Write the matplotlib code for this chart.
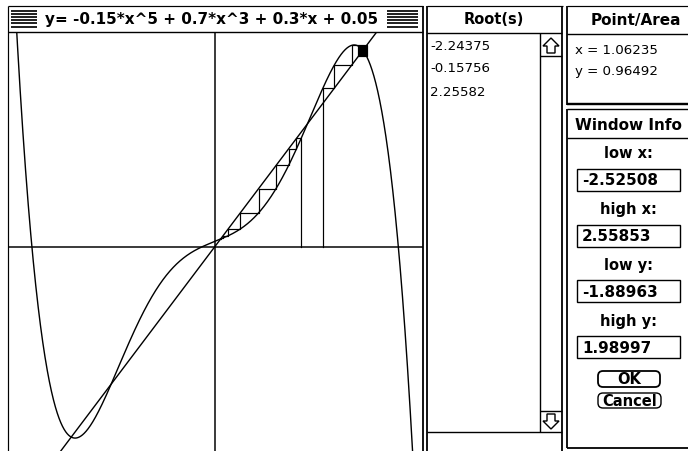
import numpy as np
import matplotlib
matplotlib.use("Agg")
import matplotlib.pyplot as plt
from matplotlib.patches import Rectangle, FancyBboxPatch, Polygon

# polynomial, highest power first
coeffs = [-0.15, 0.0, 0.7, 0.0, 0.3, 0.05]
title = "y= -0.15*x^5 + 0.7*x^3 + 0.3*x + 0.05"

# window info panel
x_low, x_high = -2.52508, 2.55853
y_low, y_high = -1.88963, 1.98997
field_labels = ["low x:", "high x:", "low y:", "high y:"]
field_values = ["-2.52508", "2.55853", "-1.88963", "1.98997"]

roots = ["-2.24375", "-0.15756", "2.25582"]
point_x = "1.06235"
point_y = "0.96492"

# the two cobweb starts and how many steps each one shows
starts = [1.06235, 1.3277]
steps = [30, 200]

PX = 0.72  # one pixel in points at dpi 100

fig = plt.figure(figsize=(6.88, 4.52), dpi=100)
fig.patch.set_facecolor("white")

# ---- graph area ----
ax = fig.add_axes([9 / 688, 0, 414 / 688, 419 / 452])
ax.set_xlim(x_low, x_high)
ax.set_ylim(y_low, y_high)
ax.axis("off")
ax.axhline(0, color="k", lw=1.5 * PX)
ax.axvline(0, color="k", lw=1.5 * PX)

xs = np.linspace(x_low, x_high, 2000)
ax.plot(xs, np.polyval(coeffs, xs), color="k", lw=1.4 * PX)
ax.plot([x_low, x_high], [x_low, x_high], color="k", lw=1.4 * PX)

for x0, n in zip(starts, steps):
    px, py = [x0], [0.0]
    x = x0
    for i in range(n):
        y = np.polyval(coeffs, x)
        px += [x, y]
        py += [y, y]
        x = y
    ax.plot(px, py, color="k", lw=1.2 * PX)

# ---- window chrome drawn in pixel coordinates ----
ui = fig.add_axes([0, 0, 1, 1])
ui.set_xlim(0, 688)
ui.set_ylim(452, 0)
ui.axis("off")


def line(x0, y0, x1, y1, lw=1.0):
    ui.plot([x0, x1], [y0, y1], color="k", lw=lw * PX, solid_capstyle="butt")


def stripes(x0, x1):
    for y in np.linspace(11.5, 27.5, 6):
        line(x0, y, x1, y, 1.7)


# graph window
line(8, 7, 423, 7, 1.2)
line(8, 7, 8, 452, 1.2)
line(423, 7, 423, 452, 1.8)
line(8, 32.5, 423, 32.5, 1.4)
stripes(11, 37)
stripes(387, 418)
ui.text(212, 19.5, title, ha="center", va="center", fontsize=11,
        fontweight="bold", family="DejaVu Sans")

# roots window
line(427, 7, 427, 452, 1.8)
line(427, 7, 563, 7, 1.2)
line(562, 7, 562, 452, 1.8)
line(427, 33.5, 562, 33.5, 1.4)
ui.text(494, 20, "Root(s)", ha="center", va="center", fontsize=10.5,
        fontweight="bold")
for i, r in enumerate(roots):
    ui.text(430, 46 + 23 * i, r, ha="left", va="center", fontsize=9.6)
line(540, 33.5, 540, 433, 1.4)
line(540, 57, 562, 57, 1.4)
line(540, 412, 562, 412, 1.4)
line(427, 433, 562, 433, 1.4)
ui.add_patch(Polygon([(551, 39), (543, 47), (547, 47), (547, 54),
                      (555, 54), (555, 47), (559, 47)],
                     closed=True, fill=False, lw=1.4 * PX))
ui.add_patch(Polygon([(551, 430), (543, 422), (547, 422), (547, 415),
                      (555, 415), (555, 422), (559, 422)],
                     closed=True, fill=False, lw=1.4 * PX))

# point/area window
line(567, 7, 688, 7, 1.2)
line(567, 7, 567, 106, 1.8)
line(567, 35, 688, 35, 1.4)
line(567, 105, 688, 105, 2.4)
ui.text(636, 20, "Point/Area", ha="center", va="center", fontsize=11,
        fontweight="bold")
ui.text(575, 50, "x = " + point_x, ha="left", va="center", fontsize=9.6)
ui.text(575, 72, "y = " + point_y, ha="left", va="center", fontsize=9.6)

# window info window
line(567, 110, 688, 110, 1.4)
line(567, 110, 567, 449, 1.8)
line(567, 449, 688, 449, 1.8)
line(567, 139, 688, 139, 1.4)
ui.text(628, 125, "Window Info", ha="center", va="center", fontsize=11,
        fontweight="bold")
for i, (lab, val) in enumerate(zip(field_labels, field_values)):
    top = 170 + 55.7 * i
    ui.text(628, top - 16, lab, ha="center", va="center", fontsize=10.5,
            fontweight="bold")
    ui.add_patch(Rectangle((577, top), 103, 22, fill=False, lw=1.4 * PX))
    ui.text(582, top + 11, val, ha="left", va="center", fontsize=11,
            fontweight="bold")

ui.add_patch(FancyBboxPatch((598, 372), 62, 16,
                            boxstyle="round,pad=0,rounding_size=5",
                            fill=False, lw=1.8 * PX))
ui.text(629, 380, "OK", ha="center", va="center", fontsize=10.5,
        fontweight="bold")
ui.add_patch(FancyBboxPatch((598, 394), 63, 15,
                            boxstyle="round,pad=0,rounding_size=5",
                            fill=False, lw=1.4 * PX))
ui.text(629.5, 401.5, "Cancel", ha="center", va="center", fontsize=10.5,
        fontweight="bold")

fig.savefig("out.png", dpi=100)
